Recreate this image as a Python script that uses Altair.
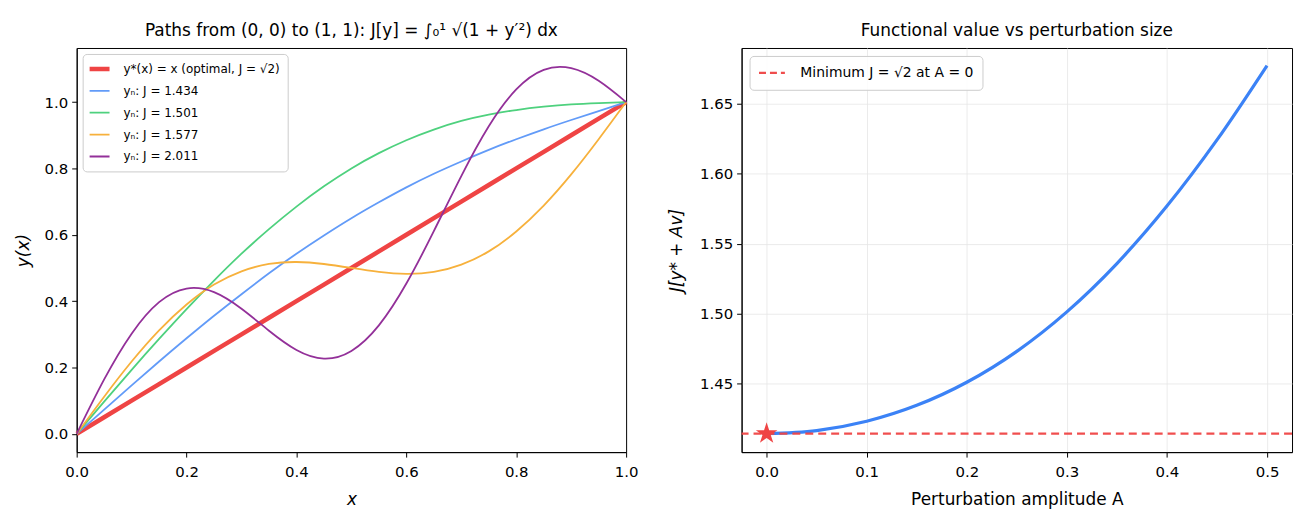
import altair as alt
import pandas as pd

# ---------------- data ----------------
x_vals = [0.00, 0.05, 0.10, 0.15, 0.20, 0.25, 0.30, 0.35, 0.40, 0.45, 0.50,
          0.55, 0.60, 0.65, 0.70, 0.75, 0.80, 0.85, 0.90, 0.95, 1.00]

y_optimal = [0.00, 0.05, 0.10, 0.15, 0.20, 0.25, 0.30, 0.35, 0.40, 0.45, 0.50,
             0.55, 0.60, 0.65, 0.70, 0.75, 0.80, 0.85, 0.90, 0.95, 1.00]
y_blue = [0.000, 0.073, 0.146, 0.218, 0.288, 0.356, 0.421, 0.484, 0.543, 0.598, 0.650,
          0.698, 0.743, 0.784, 0.821, 0.856, 0.888, 0.918, 0.946, 0.973, 1.000]
y_green = [0.000, 0.097, 0.193, 0.286, 0.376, 0.462, 0.543, 0.617, 0.685, 0.746, 0.800,
           0.846, 0.885, 0.917, 0.943, 0.962, 0.976, 0.986, 0.993, 0.997, 1.000]
y_orange = [0.000, 0.112, 0.218, 0.312, 0.390, 0.450, 0.490, 0.512, 0.518, 0.512, 0.500,
            0.488, 0.482, 0.488, 0.510, 0.550, 0.610, 0.688, 0.782, 0.888, 1.000]
y_purple = [0.000, 0.164, 0.302, 0.397, 0.438, 0.427, 0.377, 0.311, 0.253, 0.227, 0.250,
            0.327, 0.453, 0.611, 0.777, 0.927, 1.038, 1.097, 1.102, 1.064, 1.000]

path_labels = ["y*(x) = x (optimal, J = √2)", "yₙ: J = 1.434", "yₙ: J = 1.501",
               "yₙ: J = 1.577", "yₙ: J = 2.011"]
path_colors = ["#EF4444", "#629BF8", "#4ED17E", "#F7B13C", "#933099"]
optimal_width = 4.5
other_width = 1.8

amp_vals = [0.00, 0.05, 0.10, 0.15, 0.20, 0.25, 0.30, 0.35, 0.40, 0.45, 0.50]
j_vals = [1.41421, 1.41640, 1.42306, 1.43444, 1.45095, 1.47307, 1.50130,
          1.53585, 1.57692, 1.62425, 1.67745]
j_min = [1.41421]
min_label = "Minimum J = √2 at A = 0"

left_x_ticks = [0.0, 0.2, 0.4, 0.6, 0.8, 1.0]
left_y_ticks = [0.0, 0.2, 0.4, 0.6, 0.8, 1.0]
right_x_ticks = [0.0, 0.1, 0.2, 0.3, 0.4, 0.5]
right_y_ticks = [1.45, 1.50, 1.55, 1.60, 1.65]

FONT = "DejaVu Sans"

# ---------------- left panel ----------------
series_y = [y_optimal, y_blue, y_green, y_orange, y_purple]
frames = []
for lab, ys in zip(path_labels, series_y):
    frames.append(pd.DataFrame({"x": x_vals, "y": ys, "series": lab}))
df_paths = pd.concat(frames, ignore_index=True)

width_expr = "datum.value == '%s' ? %s : %s" % (path_labels[0], optimal_width, other_width)

leg_left = alt.Legend(title=None, orient="top-left", offset=6, padding=7,
                      cornerRadius=4, fillColor="rgba(255,255,255,0.85)",
                      strokeColor="#cccccc", labelFont=FONT, labelFontSize=12,
                      labelColor="black", symbolType="stroke", symbolSize=784,
                      symbolStrokeWidth=alt.ExprRef(expr=width_expr),
                      rowPadding=6, clipHeight=16, labelOffset=22, labelLimit=500,
                      symbolOpacity=1)

lx = alt.X("x:Q", scale=alt.Scale(domain=[0, 1], nice=False, zero=False),
           axis=alt.Axis(values=left_x_ticks, format=".1f", title="x",
                         titleFontStyle="italic", labelFlush=False,
                         labelPadding=8, titlePadding=12))
ly = alt.Y("y:Q", scale=alt.Scale(domain=[-0.055, 1.163], nice=False, zero=False),
           axis=alt.Axis(values=left_y_ticks, format=".1f", title="y(x)",
                         titleFontStyle="italic", titlePadding=12))
lcolor = alt.Color("series:N", scale=alt.Scale(domain=path_labels, range=path_colors),
                   legend=leg_left)

base_left = alt.Chart(df_paths)
opt_layer = base_left.transform_filter(
    alt.datum.series == path_labels[0]
).mark_line(interpolate="linear", strokeWidth=optimal_width).encode(x=lx, y=ly, color=lcolor)
others_layer = base_left.transform_filter(
    alt.datum.series != path_labels[0]
).mark_line(interpolate="natural", strokeWidth=other_width).encode(x=lx, y=ly, color=lcolor)

left = alt.layer(opt_layer, others_layer).properties(
    width=552, height=406,
    title=alt.TitleParams("Paths from (0, 0) to (1, 1): J[y] = ∫₀¹ √(1 + y′²) dx",
                          fontSize=17, font=FONT, fontWeight="normal", offset=8,
                          color="black"),
)

# ---------------- right panel ----------------
df_j = pd.DataFrame({"A": amp_vals, "J": j_vals})
df_min = pd.DataFrame({"J": j_min, "label": [min_label]})
df_star = pd.DataFrame({"A": amp_vals[:1], "J": j_min})

rx_scale = alt.Scale(domain=[-0.025, 0.525], nice=False, zero=False)
ry_scale = alt.Scale(domain=[1.401, 1.690], nice=False, zero=False)
rx = alt.X("A:Q", scale=rx_scale,
           axis=alt.Axis(values=right_x_ticks, format=".1f",
                         title="Perturbation amplitude A", grid=True,
                         gridColor="#e6e6e6", gridWidth=0.8, labelFlush=False,
                         labelPadding=8, titlePadding=12))
ry = alt.Y("J:Q", scale=ry_scale,
           axis=alt.Axis(values=right_y_ticks, format=".2f", title="J[y* + Av]",
                         titleFontStyle="italic", grid=True, gridColor="#e6e6e6",
                         gridWidth=0.8, titlePadding=14))

leg_right = alt.Legend(title=None, orient="top-left", offset=8, padding=8,
                       cornerRadius=4, fillColor="rgba(255,255,255,0.85)",
                       strokeColor="#cccccc", labelFont=FONT, labelFontSize=14,
                       labelColor="black", symbolType="stroke", symbolSize=676,
                       symbolDash=[7, 4], symbolStrokeWidth=2.2, clipHeight=18,
                       labelOffset=14, labelLimit=500)

j_line = alt.Chart(df_j).mark_line(color="#3B82F6", strokeWidth=3.2,
                                   interpolate="monotone").encode(x=rx, y=ry)
min_rule = alt.Chart(df_min).mark_rule(strokeDash=[8, 5], strokeWidth=2.2,
                                       opacity=0.95).encode(
    y=alt.Y("J:Q", scale=ry_scale),
    color=alt.Color("label:N", scale=alt.Scale(domain=[min_label], range=["#EF4444"]),
                    legend=leg_right),
)
star_path = ("M0,-1 L0.2245,-0.309 L0.9511,-0.309 L0.3633,0.118 L0.5878,0.809 "
             "L0,0.382 L-0.5878,0.809 L-0.3633,0.118 L-0.9511,-0.309 L-0.2245,-0.309 Z")
star = alt.Chart(df_star).mark_point(shape=star_path, filled=True, size=520,
                                     color="#EF4444", opacity=1, strokeWidth=0).encode(
    x=alt.X("A:Q", scale=rx_scale), y=alt.Y("J:Q", scale=ry_scale))

right = alt.layer(j_line, min_rule, star).properties(
    width=553, height=406,
    title=alt.TitleParams("Functional value vs perturbation size", fontSize=17,
                          font=FONT, fontWeight="normal", offset=8, color="black"),
)

chart = alt.hconcat(left, right, spacing=28).resolve_scale(
    color="independent"
).resolve_legend(
    color="independent"
).properties(
    padding={"left": 5, "top": 12, "right": 5, "bottom": 5}
).configure_view(
    stroke="black", strokeWidth=1
).configure_axis(
    labelFont=FONT, labelFontSize=15, labelColor="black",
    titleFont=FONT, titleFontSize=17, titleFontWeight="normal", titleColor="black",
    domainColor="black", tickColor="black", tickSize=5, labelPadding=4,
    domainWidth=1, tickWidth=1, grid=False,
)

chart.save("out.html", embed_options={"renderer": "svg", "actions": False})
